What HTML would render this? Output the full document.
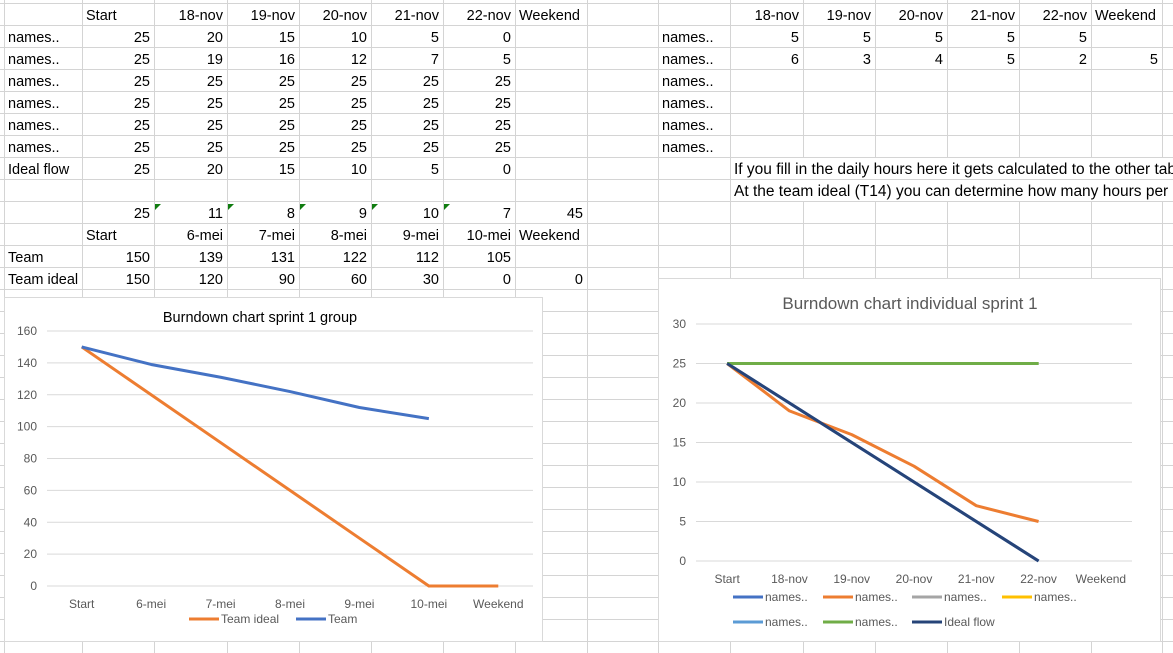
<!DOCTYPE html>
<html><head><meta charset="utf-8">
<style>
body{margin:0;background:#fff;}
svg{display:block;font-family:"Liberation Sans",sans-serif;}
</style></head>
<body>
<svg id="s" width="1173" height="653" xmlns="http://www.w3.org/2000/svg">
<g id="grid"></g>
<g id="cells"></g>
<g id="c1"></g>
<g id="c2"></g>
</svg>
<script>
// ---- chart 1 data ----
const cats1 = ["Start","6-mei","7-mei","8-mei","9-mei","10-mei","Weekend"];
const teamIdeal = [150,120,90,60,30,0,0];
const team = [150,139,131,122,112,105];
const ticks1 = [0,20,40,60,80,100,120,140,160];
// ---- chart 2 data ----
const cats2 = ["Start","18-nov","19-nov","20-nov","21-nov","22-nov","Weekend"];
const names1 = [25,20,15,10,5,0];
const names2 = [25,19,16,12,7,5];
const names3 = [25,25,25,25,25,25];
const names4 = [25,25,25,25,25,25];
const names5 = [25,25,25,25,25,25];
const names6 = [25,25,25,25,25,25];
const idealFlow = [25,20,15,10,5,0];
const ticks2 = [0,5,10,15,20,25,30];

const NS="http://www.w3.org/2000/svg";
function mk(parent,tag,attrs,text){const e=document.createElementNS(NS,tag);for(const k in attrs)e.setAttribute(k,attrs[k]);if(text!==undefined)e.textContent=text;parent.appendChild(e);return e;}

const colX=[4,82,154,227,299,371,443,515,587,658,730,803,875,947,1019,1091,1162,1240];
const grid=document.getElementById('grid');
for(let y=3;y<660;y+=22){const l=mk(grid,'line',{x1:0,x2:1173,y1:y+.5,y2:y+.5,stroke:'#d4d4d4'});}
colX.forEach(x=>{const l=mk(grid,'line',{x1:x+.5,x2:x+.5,y1:0,y2:653,stroke:'#d4d4d4'});});

const cells=document.getElementById('cells');
function cell(col,row,txt,align){
  const top=3+row*22;
  let x,anchor;
  if(align==='l'){x=colX[col]+4;anchor='start';}else{x=colX[col+1]-4;anchor='end';}
  const t=mk(cells,'text',{x:x,y:top+17,'font-size':'14.5',fill:'#000','text-anchor':anchor},txt);
  
  
}
const hdr=["Start","18-nov","19-nov","20-nov","21-nov","22-nov","Weekend"];
cell(1,0,"Start",'l');
for(let i=1;i<7;i++)cell(i+1,0,hdr[i],i===6?'l':'r');
const rows=[[25,20,15,10,5,0],[25,19,16,12,7,5],[25,25,25,25,25,25],[25,25,25,25,25,25],[25,25,25,25,25,25],[25,25,25,25,25,25],[25,20,15,10,5,0]];
rows.forEach((r,ri)=>{cell(0,ri+1,ri===6?"Ideal flow":"names..",'l');r.forEach((v,ci)=>cell(ci+1,ri+1,String(v),'r'));});
[25,11,8,9,10,7,45].forEach((v,ci)=>cell(ci+1,9,String(v),'r'));
cell(1,10,"Start",'l');
["6-mei","7-mei","8-mei","9-mei","10-mei"].forEach((v,i)=>cell(i+2,10,v,'r'));
cell(7,10,"Weekend",'l');
cell(0,11,"Team",'l');team.forEach((v,i)=>cell(i+1,11,String(v),'r'));
cell(0,12,"Team ideal",'l');teamIdeal.forEach((v,i)=>cell(i+1,12,String(v),'r'));
[154,227,299,371,443].forEach(x=>{const p=mk(cells,'path',{d:`M${x+1} 204 h6 l-6 6z`,fill:'#107c10'});});
// right table
["18-nov","19-nov","20-nov","21-nov","22-nov"].forEach((v,i)=>cell(i+10,0,v,'r'));
cell(15,0,"Weekend",'l');
for(let r=1;r<=6;r++)cell(9,r,"names..",'l');
[5,5,5,5,5].forEach((v,i)=>cell(i+10,1,String(v),'r'));
[6,3,4,5,2,5].forEach((v,i)=>cell(i+10,2,String(v),'r'));
[[7,"If you fill in the daily hours here it gets calculated to the other tabs"],[8,"At the team ideal (T14) you can determine how many hours per day"]].forEach(([r,t])=>{
  const top=3+r*22;
  const bg=mk(cells,'rect',{x:731,y:top+1,width:450,height:21,fill:'#fff'});
  const tx=mk(cells,'text',{x:734,y:top+17,'font-size':'15.5',fill:'#000'},t);
});

function chart(g,box,plot,cats,ticks,maxV,series,title,titleSize,legend){
  const bg=mk(g,'rect',{x:box.x+.5,y:box.y+.5,width:box.w,height:box.h,fill:'#fff',stroke:'#d9d9d9'});
  
  const yS=v=>plot.y1-(v/maxV)*(plot.y1-plot.y0);
  const step=(plot.x1-plot.x0)/cats.length;
  const xS=i=>plot.x0+step*(i+.5);
  ticks.forEach(t=>{
    const l=mk(g,'line',{x1:plot.x0,x2:plot.x1,y1:yS(t),y2:yS(t),stroke:'#d9d9d9'});
    const tx=mk(g,'text',{x:plot.x0-10,y:yS(t)+4,'font-size':'12',fill:'#595959','text-anchor':'end'},String(t));
  });
  cats.forEach((c,i)=>{const tx=mk(g,'text',{x:xS(i),y:plot.y1+22,'font-size':'12',fill:'#595959','text-anchor':'middle'},c);});
  series.forEach(s=>{
    const pts=s.v.map((v,i)=>xS(i)+','+yS(v)).join(' ');
    const p=mk(g,'polyline',{points:pts,fill:'none',stroke:s.c,'stroke-width':3,'stroke-linejoin':'round'});
    
  });
  const tt=mk(g,'text',{x:title.x,y:title.y,'font-size':titleSize,fill:title.c,'text-anchor':'middle'},title.t);
  
  legend.forEach(l=>{
    const ln=mk(g,'line',{x1:l.x,x2:l.x+30,y1:l.y,y2:l.y,stroke:l.c,'stroke-width':3});
    const tx=mk(g,'text',{x:l.x+32,y:l.y+4,'font-size':'12',fill:'#595959'},l.t);
  });
}
chart(document.getElementById('c1'),{x:4,y:297,w:538,h:344},{x0:47,x1:533,y0:331,y1:586},cats1,ticks1,160,
 [{n:'team-ideal',v:teamIdeal,c:'#ed7d31'},{n:'team',v:team,c:'#4472c4'}],
 {x:260,y:322,t:'Burndown chart sprint 1 group',c:'#000'},'14.5',
 [{x:189,y:619,c:'#ed7d31',t:'Team ideal'},{x:296,y:619,c:'#4472c4',t:'Team'}]);
chart(document.getElementById('c2'),{x:658,y:278,w:502,h:363},{x0:696,x1:1132,y0:324,y1:561},cats2,ticks2,30,
 [{n:'names-1',v:names1,c:'#4472c4'},{n:'names-2',v:names2,c:'#ed7d31'},{n:'names-3',v:names3,c:'#a5a5a5'},{n:'names-4',v:names4,c:'#ffc000'},{n:'names-5',v:names5,c:'#5b9bd5'},{n:'names-6',v:names6,c:'#70ad47'},{n:'ideal-flow',v:idealFlow,c:'#264478'}],
 {x:910,y:309,t:'Burndown chart individual sprint 1',c:'#595959'},'17',
 [{x:733,y:597,c:'#4472c4',t:'names..'},{x:823,y:597,c:'#ed7d31',t:'names..'},{x:912,y:597,c:'#a5a5a5',t:'names..'},{x:1002,y:597,c:'#ffc000',t:'names..'},
  {x:733,y:622,c:'#5b9bd5',t:'names..'},{x:823,y:622,c:'#70ad47',t:'names..'},{x:912,y:622,c:'#264478',t:'Ideal flow'}]);
</script>
</body></html>
